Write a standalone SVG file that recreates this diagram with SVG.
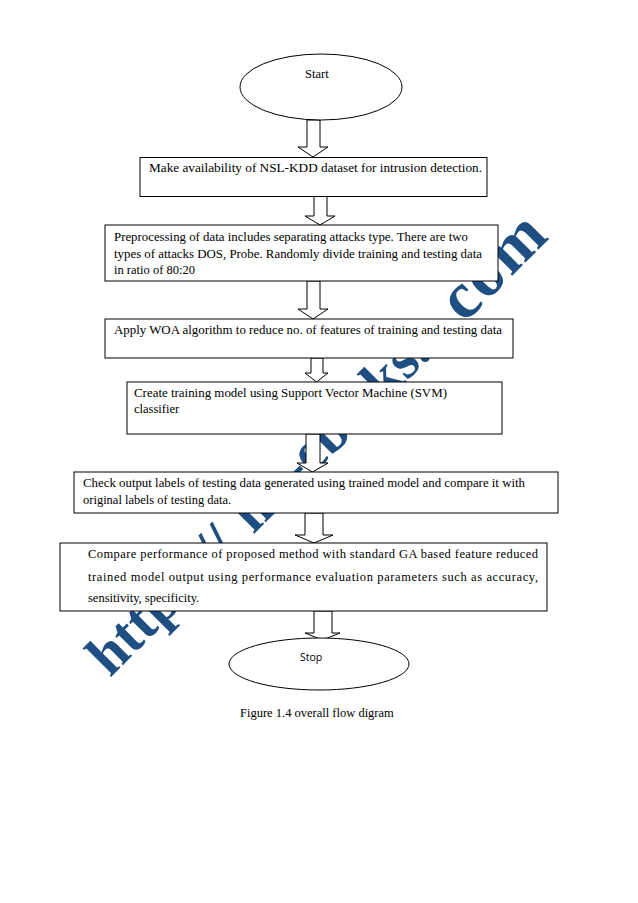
<svg xmlns="http://www.w3.org/2000/svg" width="638" height="903" viewBox="0 0 638 903">
<style>
.box{fill:#fff;stroke:#000;stroke-width:1}
.arr{fill:#fff;stroke:#000;stroke-width:1;stroke-linejoin:miter}
.t{font-family:"Liberation Serif","Times New Roman",serif;font-size:12.5px;fill:#000}
.s{font-family:"Open Sans","Liberation Sans",sans-serif;font-size:10.5px;fill:#000}
.wm{font-family:"Liberation Serif","Times New Roman",serif;font-size:58px;font-weight:bold;fill:#1f4f82}
</style>
<rect width="638" height="903" fill="#fff"/>
<g id="watermark">
<text class="wm" transform="translate(110,678) rotate(-45)" x="0" y="0" dx="0 0 0 0 0 28 0 20 0 0 0 0 0 0 0 -15 0 0 44 2 2">http://lib-ebooks.<tspan font-size="66">com</tspan></text>
</g>
<g id="connectors">
<polygon class="arr" points="307,120 320,120 320,147 328,147 313,157 298,147 307,147"/>
<polygon class="arr" points="314,196 327,196 327,216 335,216 320,225 305,216 314,216"/>
<polygon class="arr" points="307,281 320,281 320,309 328,309 313,319 298,309 307,309"/>
<polygon class="arr" points="311,358 323,358 323,373 328,373 316.5,382 305,373 311,373"/>
<polygon class="arr" points="306,434 320,434 320,463 328,463 312.5,472 297,463 306,463"/>
<polygon class="arr" points="305,513 323,513 323,535 333,535 314,543 295,535 305,535"/>
<polygon class="arr" points="314,611 332,611 332,633 340,633 322.5,640 305,633 314,633"/>
</g>
<g id="start">
<ellipse class="box" cx="321" cy="87" rx="81" ry="33"/>
<text class="t" x="305" y="78" font-size="11">Start</text>
</g>
<g id="dataset">
<rect class="box" x="140" y="157.5" width="347" height="39"/>
<text class="t" x="149" y="172" textLength="333" lengthAdjust="spacingAndGlyphs">Make availability of NSL-KDD dataset for intrusion detection.</text>
</g>
<g id="preprocess">
<rect class="box" x="105" y="225" width="393" height="56"/>
<text class="t" x="114" y="241" textLength="354" lengthAdjust="spacingAndGlyphs">Preprocessing of data includes separating attacks type. There are two</text>
<text class="t" x="114" y="258" textLength="368" lengthAdjust="spacingAndGlyphs">types of attacks DOS, Probe. Randomly divide training and testing data</text>
<text class="t" x="114" y="274">in ratio of 80:20</text>
</g>
<g id="woa">
<rect class="box" x="105" y="319" width="408" height="39"/>
<text class="t" x="114" y="334" textLength="388" lengthAdjust="spacingAndGlyphs">Apply WOA algorithm to reduce no. of features of training and testing data</text>
</g>
<g id="svm">
<rect class="box" x="127" y="382" width="375" height="52"/>
<text class="t" x="134" y="397" textLength="313" lengthAdjust="spacingAndGlyphs">Create training model using Support Vector Machine (SVM)</text>
<text class="t" x="134" y="413">classifier</text>
</g>
<g id="check">
<rect class="box" x="74" y="472" width="484" height="41"/>
<text class="t" x="83" y="487" textLength="442" lengthAdjust="spacingAndGlyphs">Check output labels of testing data generated using trained model and compare it with</text>
<text class="t" x="83" y="504">original labels of testing data.</text>
</g>
<g id="compare">
<rect class="box" x="60" y="543" width="487" height="68"/>
<text class="t" x="88" y="558" textLength="450" lengthAdjust="spacing">Compare performance of proposed method with standard GA based feature reduced</text>
<text class="t" x="88" y="581" textLength="450" lengthAdjust="spacing">trained model output using performance evaluation parameters such as accuracy,</text>
<text class="t" x="88" y="602">sensitivity, specificity.</text>
</g>
<g id="stop">
<ellipse class="box" cx="319" cy="664" rx="90" ry="26"/>
<text class="s" x="300" y="661">Stop</text>
</g>
<g id="caption">
<text class="t" x="240" y="717" font-size="11.5">Figure 1.4 overall flow digram</text>
</g>
</svg>
